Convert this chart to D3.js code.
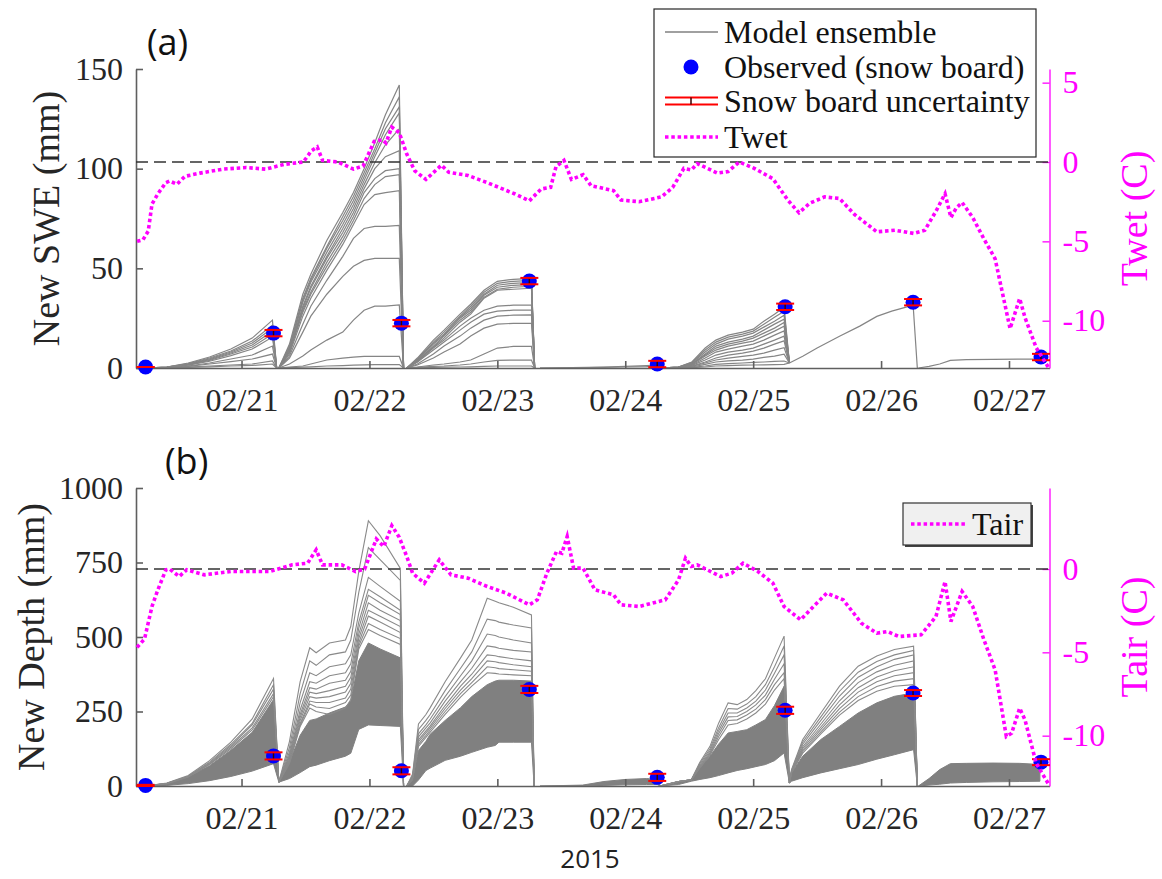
<!DOCTYPE html>
<html><head><meta charset="utf-8">
<script src="https://cdn.jsdelivr.net/npm/d3@7"></script>
<style>body{margin:0;background:#fff} svg{display:block}</style>
</head><body><svg id="c" width="1162" height="879"></svg>
<script>
// ---------------- DATA (hours since 2015-02-20 00:00) ----------------
const xTickHours = [24, 48, 72, 96, 120, 144, 168];
const xTickLabels = ["02/21", "02/22", "02/23", "02/24", "02/25", "02/26", "02/27"];
const xDomainHours = [4.2, 175.6];

const sweTicks = [0, 50, 100, 150];
const depthTicks = [0, 250, 500, 750, 1000];
const twetTicks = [-10, -5, 0, 5];
const tairTicks = [-10, -5, 0];
const twetLimits = [-12.98, 5.86];
const tairLimits = [-13.02, 4.86];

const obsHours = [6, 30, 54, 78, 102, 126, 150, 174];
const obsSWE = [0.5, 17.5, 22.5, 43.6, 2, 30.7, 33, 5.5];
const sweUncert = [0, 1.6, 1.6, 1.6, 1.6, 1.6, 1.6, 1.6];
const obsDepth = [2, 101, 51, 324, 29, 254, 312, 80];
const depthUncert = [2, 12, 12, 12, 12, 12, 10, 10];

const twetHours = [4.4,5.5,6.5,7.2,8.3,9.8,10.5,11.9,13.4,16.2,20.5,24.9,28.5,32,35.6,37.1,38.2,39.2,42.1,45,46.8,48.9,50.4,51.1,52.2,53.6,55,56.5,58.6,61.5,62.9,66.5,70.1,75.2,78,80.2,82,83,84.5,85.9,88.1,89.6,93.8,95.2,98.6,102.8,104.9,107,108.4,109.5,113.3,115.3,117.4,120.2,123.7,126.5,128.6,130.6,133.4,136.2,139,143.2,146.6,150.1,152.2,154.3,156,157.1,158.1,159.2,161.2,163.3,165.4,166.8,168.2,170,171,173.1,175.5];
const twetValues = [-5.0,-4.9,-4.35,-2.65,-2.0,-1.3,-1.2,-1.4,-0.9,-0.7,-0.45,-0.35,-0.45,-0.15,0,0.7,0.95,0.1,0,-0.45,-0.25,1.3,1.4,1.2,2.2,1.85,0.5,-0.55,-1.1,-0.2,-0.65,-0.85,-1.3,-2.0,-2.45,-1.7,-1.6,-0.3,0.1,-1.1,-0.8,-1.5,-1.8,-2.4,-2.5,-2.2,-1.6,-0.4,-0.5,-0.1,-0.7,-0.6,0.0,-0.4,-1.05,-2.4,-3.2,-2.6,-2.2,-2.3,-3.3,-4.4,-4.3,-4.5,-4.3,-3.1,-2.0,-3.5,-2.9,-2.55,-3.5,-4.85,-6.1,-8.3,-10.5,-8.6,-9.8,-11.7,-13.0];

const tairHours = [4.4,5.8,7.2,8.3,9.8,10.5,12.3,13.7,17,22,29.2,33.5,36.4,38,39.2,42.8,45.4,47.1,49.3,50.7,52.2,53.6,55,56.1,58.3,61.1,63.3,66.5,70.1,73.7,78,79.5,81.3,83.1,84.1,85.1,86.3,88.1,90.3,93.8,95.2,98.6,103.5,106,107.3,108.4,109.5,113.9,116,118.1,120.9,123.7,125.8,128.9,131.3,133.8,136.9,140.3,143.2,145.2,147.3,151.5,154.3,156,157.1,159.2,161.2,163.3,165.4,167.5,168.5,170,171,173.1,175.5];
const tairValues = [-4.7,-4.2,-2.25,-1.25,-0.05,0,-0.45,-0.05,-0.35,-0.15,-0.15,0.25,0.35,1.15,0.25,0.25,-0.15,0,1.8,1.35,2.6,1.9,0.75,-0.25,-0.85,0.55,-0.35,-0.55,-1.05,-1.45,-2.15,-1.85,-0.25,1.05,0.95,1.95,0.05,0.05,-1.25,-1.55,-2.15,-2.25,-1.85,-0.65,0.65,0.15,0.25,-0.45,-0.25,0.35,-0.15,-0.85,-2.25,-3.05,-2.25,-1.45,-1.85,-3.25,-3.85,-3.75,-4.05,-3.95,-2.85,-0.75,-3.15,-1.35,-2.25,-4.25,-6.05,-10.05,-9.85,-8.35,-9.05,-11.65,-12.95];

// SWE ensemble members, per accumulation period
const sweSeg1Hours = [6, 10, 14, 18, 22, 26, 29.8, 30.6];
const sweSeg1Members = [
  [0,0.5,2.5,5.5,9.5,15,24,0],[0,0.5,2.2,5,8.5,13.5,21.5,0],[0,0.4,2,4.6,8,12.5,20,0],
  [0,0.4,1.8,4.2,7.5,11.5,18.5,0],[0,0.3,1.6,3.8,7,10.5,17,0],[0,0.3,1.4,3.4,6.2,9.5,15.5,0],
  [0,0.2,1,2.5,4.5,6.5,11,0],[0,0.2,0.8,2,3.2,4.5,7,0],[0,0.1,0.5,1,1.5,2,3.5,0],[0,0.1,0.3,0.6,1,1.3,2,0]];
const sweSeg2Hours = [31, 33, 35.5, 37, 40, 43, 45, 47, 49, 51, 53.6, 54.4];
const sweSeg2Members = [
  [0,12,37,47,64,78,88,100,113,127,142,0],[0,11,35,45,61,76,86,98,110,123,136,0],
  [0,10,34,44,60,74,84,96,108,120,131,0],[0,10,33,43,58,72,82,94,106,117,128,0],
  [0,9,31,41,56,70,80,92,103,112,120,0],[0,9,30,40,55,68,78,90,100,106,109,0],
  [0,8,29,38,53,66,76,88,95,99,100,0],[0,8,28,37,51,64,74,85,92,96,97,0],
  [0,7,26,35,49,62,72,82,87,88,89,0],[0,6,22,31,44,56,65,70,71,71,71.5,0],
  [0,5,18,26,37,46,51,54,55,55,55,0],[0,2,6,9,14,18,24,29,31,31,31.6,0],
  [0,0.5,1,2,4,5,5.5,5.8,5.8,5.8,5.8,0],[0,0.2,0.4,0.6,1,1.2,1.4,1.6,1.7,1.7,1.7,0]];
const sweSeg3Hours = [55, 57, 60, 62, 65, 67, 69.5, 72, 75, 78.4, 79];
const sweSeg3Members = [
  [0,5,14,19,27,32,39,43.5,44.5,45,0],[0,4.5,13,18,26,31,38,42.5,43.5,44,0],
  [0,4,12.5,17,25.5,30,37,41.5,42.5,43,0],[0,4,12,16.5,25,29,36.5,40.5,41.5,42,0],
  [0,3.5,11,16,24,28,35.5,39.5,40.5,41,0],[0,3.5,10.5,15,23,27,35,39,39.5,40,0],
  [0,3,10,14,21,25,29,31,31.5,31.6,0],[0,3,9,13,19,23,27,28.5,29,29,0],
  [0,2,7,11,16,20,24,26,26.5,26.6,0],[0,1.5,5,8,12,16,20,22,22.4,22.4,0],
  [0,0.5,1.5,2,3,4,7,10,10.8,10.8,0],[0,0.3,0.8,1,1.5,2,3,3.8,4,4,0],[0,0.1,0.3,0.4,0.5,0.6,0.8,1,1,1,0]];
const sweSeg4Hours = [80, 86, 92, 96, 100, 102];
const sweSeg4Members = [[0,0.2,0.5,0.8,1.2,1.5],[0,0.1,0.3,0.5,0.7,1]];
const sweSeg5Hours = [102.5, 106, 108.5, 111, 113, 115.3, 118, 120, 122, 124, 125.8, 126.8];
const sweSeg5Members = [
  [0,0.5,3,10,14,16.5,18,19.5,23.5,27,30.5,2.5],[0,0.5,2.8,9,13,15.5,17,18.5,22,25.5,28.5,2.5],
  [0,0.5,2.5,8,12,14.5,16,17.5,20.5,23.5,26.5,2.5],[0,0.4,2.2,7,11,13,14.5,16,19,22,24.5,2.5],
  [0,0.4,2,6.5,10,12,13.5,15,17.5,20,22.8,2.5],[0,0.3,1.8,6,9,11,12.5,13.5,16,18.5,21,2.5],
  [0,0.3,1.5,5,8,9.5,11,12,14,16.5,18.6,2.5],[0,0.3,1.3,4,6.5,8,9,10,12,14,16,2.5],
  [0,0.2,1,3,5,6.5,7.5,8.5,10,12,13.6,2.5],[0,0.2,0.8,2.5,4,5,5.8,6.5,7.5,9,10.2,2.5],
  [0,0.1,0.5,1.8,3,3.6,4,4.5,5.3,6,6.9,2.5],[0,0.1,0.3,1,1.8,2.2,2.5,2.8,3,3.3,3.5,2.5],
  [0,0,0.2,0.5,1,1.2,1.4,1.5,1.6,1.7,1.8,2.5]];
const sweSeg6Hours = [126.8, 129.3, 132, 136.2, 140, 143.2, 146, 148.7, 150, 150.8];
const sweSeg6Members = [[2.5,5.9,10,15.9,21,25.9,28.5,30.5,32,0]];
const sweSeg7Hours = [151, 153, 155, 157, 160, 165, 170, 174];
const sweSeg7Members = [[0,0.8,2,3.8,4.2,4.3,4.5,4.5]];

// Depth ensemble: dense band (lower/upper) plus distinct upper members
const depSeg1Hours = [6, 10, 14, 18, 22, 26, 30, 31];
const depSeg1Lower = [0, 2, 8, 18, 32, 50, 75, 13];
const depSeg1Upper = [0, 8, 30, 68, 120, 180, 290, 13];
const depSeg1Members = [
  [0,10,35,85,147,225,361,13],[0,9,33,80,140,210,340,13],[0,9,32,77,135,205,325,13],
  [0,8,31,74,130,195,310,13],[0,8,30,72,125,188,300,13]];
const depSeg2Hours = [31, 33, 35, 36.8, 38, 40.5, 43.5, 44.5, 46, 47.8, 50, 53.8, 54.4];
const depSeg2Lower = [13, 25, 45, 65, 70, 85, 100, 110, 190, 205, 203, 200, 0];
const depSeg2Upper = [13, 80, 170, 220, 225, 245, 265, 285, 420, 480, 460, 430, 0];
const depSeg2Members = [
  [13,150,350,464,447,480,490,535,720,890,840,730,0],[13,130,310,420,405,440,450,490,650,800,760,690,0],
  [13,115,280,380,370,400,410,440,580,700,670,620,0],[13,105,255,350,345,370,380,410,550,660,635,590,0],
  [13,100,240,330,325,345,355,385,530,640,615,575,0],[13,95,230,315,310,320,335,365,510,615,590,555,0],
  [13,90,220,300,295,300,315,345,495,590,570,535,0],[13,85,210,285,280,280,295,325,480,570,550,515,0],
  [13,80,205,275,265,260,280,305,470,545,525,495,0],[13,75,200,262,250,240,262,290,460,525,505,475,0]];
const depSeg3Hours = [55, 56.1, 57.2, 58.6, 59.4, 62.2, 65.1, 67.2, 70.1, 71.6, 72.3, 75, 78.4, 78.9];
const depSeg3Lower = [0, 0, 20, 52, 60, 86, 100, 113, 130, 136, 147, 147, 147, 0];
const depSeg3Upper = [0, 20, 119, 150, 174, 220, 263, 300, 340, 352, 355, 355, 352, 0];
const depSeg3Members = [
  [0,40,208,240,263,350,430,490,630,620,615,600,574,0],[0,35,190,220,240,320,395,450,560,555,550,540,530,0],
  [0,32,175,205,225,300,370,420,510,505,500,490,480,0],[0,30,165,195,212,285,350,395,470,466,462,455,450,0],
  [0,28,155,185,202,270,335,375,440,437,434,427,420,0],[0,26,148,178,195,260,322,360,420,417,414,407,400,0],
  [0,24,140,170,188,250,310,347,400,397,394,390,385,0],[0,22,133,163,181,240,298,335,380,378,376,373,370,0]];
const depSeg4Hours = [80, 88, 92, 96, 100, 102, 102.5];
const depSeg4Lower = [0, 0, 2, 4, 5, 5, 0];
const depSeg4Upper = [0, 3, 15, 22, 25, 22, 0];
const depSeg5Hours = [102.5, 106, 108.4, 110, 111.9, 113.5, 115.3, 117, 118.8, 120.5, 122.3, 124, 125.8, 126.8];
const depSeg5Lower = [0, 5, 16, 22, 28, 35, 44, 52, 58, 65, 72, 85, 111, 10];
const depSeg5Upper = [0, 15, 21, 60, 100, 140, 178, 183, 189, 205, 223, 270, 335, 10];
const depSeg5Members = [
  [0,15,21,80,133,210,279,273,290,320,360,430,503,10],[0,15,21,75,125,195,260,258,275,300,340,400,470,10],
  [0,15,21,70,118,185,245,245,262,285,322,378,440,10],[0,15,21,66,112,175,232,233,250,272,305,358,410,10],
  [0,15,21,63,107,165,220,222,238,258,290,340,380,10],[0,15,21,61,103,155,205,210,225,245,275,322,360,10]];
const depSeg6Hours = [126.8, 127.2, 129.3, 132.7, 136.2, 139.7, 143.2, 146.5, 150.1, 150.8];
const depSeg6Lower = [10, 16, 28, 44, 58, 72, 90, 105, 122, 0];
const depSeg6Upper = [10, 44, 100, 156, 200, 245, 279, 301, 312, 0];
const depSeg6Members = [
  [10,55,156,245,335,402,436,458,469,0],[10,52,148,232,318,382,418,440,455,0],
  [10,50,140,220,302,365,400,425,440,0],[10,48,132,208,286,347,383,405,420,0],
  [10,47,126,198,272,330,366,387,400,0],[10,46,120,190,260,315,350,370,380,0],
  [10,45,115,182,248,300,334,352,360,0],[10,45,110,175,238,287,318,335,340,0]];
const depSeg7Hours = [151, 153, 155, 157, 160, 165, 170, 173.8];
const depSeg7Lower = [0, 3, 6, 10, 12, 14, 15, 16];
const depSeg7Upper = [0, 25, 55, 75, 76, 77, 76, 72];

// ---------------- DRAWING ----------------
const sweSegments = [
  [sweSeg1Hours, sweSeg1Members], [sweSeg2Hours, sweSeg2Members], [sweSeg3Hours, sweSeg3Members],
  [sweSeg4Hours, sweSeg4Members], [sweSeg5Hours, sweSeg5Members], [sweSeg6Hours, sweSeg6Members],
  [sweSeg7Hours, sweSeg7Members]];
const depSegments = [
  [depSeg1Hours, depSeg1Lower, depSeg1Upper, depSeg1Members],
  [depSeg2Hours, depSeg2Lower, depSeg2Upper, depSeg2Members],
  [depSeg3Hours, depSeg3Lower, depSeg3Upper, depSeg3Members],
  [depSeg4Hours, depSeg4Lower, depSeg4Upper, []],
  [depSeg5Hours, depSeg5Lower, depSeg5Upper, depSeg5Members],
  [depSeg6Hours, depSeg6Lower, depSeg6Upper, depSeg6Members],
  [depSeg7Hours, depSeg7Lower, depSeg7Upper, []]];

const base = new Date(2015, 1, 20).getTime();
const toDate = h => new Date(base + h * 3600000);
const svg = d3.select("#c");
const SERIF = "'Liberation Serif','Times New Roman',serif";
const SANS = "'Open Sans','Noto Sans',sans-serif";
const GRAY = "#808080", MAG = "#ff00ff", AXC = "#5f5f5f", TXT = "#262626";
const plainNum = d => String(d);

const x = d3.scaleTime().domain(xDomainHours.map(toDate)).range([136, 1049.5]);

function styleAxis(g, color, textColor) {
  g.attr("font-family", SERIF).attr("font-size", 32);
  g.selectAll("path.domain").attr("stroke", color).attr("stroke-width", 1.6);
  g.selectAll(".tick line").attr("stroke", color).attr("stroke-width", 1.6);
  g.selectAll(".tick text").attr("fill", textColor).style("font-family", SERIF).style("font-size", "32px");
}

function panel(cfg) {
  const y = d3.scaleLinear().domain([0, cfg.leftMax]).range([cfg.bottom, cfg.top]);
  const yR = d3.scaleLinear().domain(cfg.rightLimits).range([cfg.bottom, cfg.top]);
  const g = svg.append("g");

  // ensemble
  const line = d3.line().x(d => x(toDate(d[0]))).y(d => y(d[1]));
  if (cfg.bands) {
    const area = d3.area().x(d => x(toDate(d[0]))).y0(d => y(d[1])).y1(d => y(d[2]));
    cfg.bands.forEach(([hrs, lo, up, members]) => {
      g.append("path").attr("d", area(hrs.map((h, i) => [h, lo[i], up[i]])))
        .attr("fill", GRAY).attr("stroke", GRAY).attr("stroke-width", 1);
      members.forEach(m => g.append("path").attr("d", line(hrs.map((h, i) => [h, m[i]])))
        .attr("fill", "none").attr("stroke", "#8a8a8a").attr("stroke-width", 1.1));
    });
  } else {
    cfg.lines.forEach(([hrs, members]) => members.forEach(m =>
      g.append("path").attr("d", line(hrs.map((h, i) => [h, m[i]])))
        .attr("fill", "none").attr("stroke", "#858585").attr("stroke-width", 1.2)));
  }

  // axes
  const gx = g.append("g").attr("transform", `translate(0,${cfg.bottom})`)
    .call(d3.axisBottom(x).tickValues(xTickHours.map(toDate)).tickFormat((d, i) => xTickLabels[i])
      .tickSizeInner(-7).tickSizeOuter(0).tickPadding(20));
  styleAxis(gx, AXC, TXT);
  const gl = g.append("g").attr("transform", "translate(136,0)")
    .call(d3.axisLeft(y).tickValues(cfg.leftTicks).tickFormat(plainNum).tickSizeInner(-7).tickSizeOuter(0).tickPadding(13));
  styleAxis(gl, AXC, TXT);
  const gr = g.append("g").attr("transform", "translate(1049.5,0)")
    .call(d3.axisRight(yR).tickValues(cfg.rightTicks).tickFormat(plainNum).tickSizeInner(-7).tickSizeOuter(0).tickPadding(13));
  styleAxis(gr, MAG, MAG);
  gr.selectAll("path.domain,.tick line").attr("stroke-width", 1.3);

  // observations
  const ob = g.append("g");
  obsHours.forEach((h, i) => {
    const cx = x(toDate(h)), v = cfg.obs[i], u = cfg.unc[i];
    ob.append("circle").attr("cx", cx).attr("cy", y(v)).attr("r", 7.5).attr("fill", "#0000ff");
    ob.append("line").attr("x1", cx).attr("x2", cx).attr("y1", y(v - u)).attr("y2", y(v + u))
      .attr("stroke", "#3a0000").attr("stroke-width", 1.5);
    [v - u, v + u].forEach(e => ob.append("line").attr("x1", cx - 9).attr("x2", cx + 9)
      .attr("y1", y(e)).attr("y2", y(e)).attr("stroke", "#ff0000").attr("stroke-width", 2));
  });

  // zero line and temperature
  g.append("line").attr("x1", 136).attr("x2", 1049.5).attr("y1", yR(0)).attr("y2", yR(0))
    .attr("stroke", "#333").attr("stroke-width", 1.4).attr("stroke-dasharray", "12,6");
  const tl = d3.line().x(d => x(toDate(d[0]))).y(d => yR(d[1]));
  g.append("path").attr("d", tl(cfg.tHours.map((h, i) => [h, cfg.tVals[i]])))
    .attr("fill", "none").attr("stroke", MAG).attr("stroke-width", 3.6).attr("stroke-dasharray", "3.5,2.8");

  // axis titles
  const mid = (cfg.top + cfg.bottom) / 2;
  g.append("text").attr("transform", `translate(${cfg.leftTitleX},${mid}) rotate(-90)`)
    .attr("text-anchor", "middle").style("font-family", SERIF).style("font-size", "38px")
    .attr("fill", TXT).text(cfg.leftTitle);
  g.append("text").attr("transform", `translate(1147,${mid}) rotate(-90)`)
    .attr("text-anchor", "middle").style("font-family", SERIF).style("font-size", "38px")
    .attr("fill", MAG).text(cfg.rightTitle);
  g.append("text").attr("x", cfg.tagX).attr("y", cfg.tagY).style("font-family", SANS)
    .style("font-size", "36px").attr("fill", "#111").text(cfg.tag);
  return g;
}

panel({top: 69, bottom: 368, leftMax: 150, leftTicks: sweTicks, rightLimits: twetLimits, rightTicks: twetTicks,
  lines: sweSegments, obs: obsSWE, unc: sweUncert, tHours: twetHours, tVals: twetValues,
  leftTitle: "New SWE (mm)", leftTitleX: 59, rightTitle: "Twet (C)", tag: "(a)", tagX: 147, tagY: 55});
panel({top: 488, bottom: 786, leftMax: 1000, leftTicks: depthTicks, rightLimits: tairLimits, rightTicks: tairTicks,
  bands: depSegments, obs: obsDepth, unc: depthUncert, tHours: tairHours, tVals: tairValues,
  leftTitle: "New Depth (mm)", leftTitleX: 44, rightTitle: "Tair (C)", tag: "(b)", tagX: 165, tagY: 474});

svg.append("text").attr("x", 590).attr("y", 868).attr("text-anchor", "middle")
  .style("font-family", SANS).style("font-size", "26px").attr("fill", "#222").text("2015");

// legend (a)
const la = svg.append("g");
la.append("rect").attr("x", 654).attr("y", 9).attr("width", 382).attr("height", 148)
  .attr("fill", "#fff").attr("stroke", "#262626").attr("stroke-width", 1.2);
const legY = [32, 67, 101, 137];
const legText = ["Model ensemble", "Observed (snow board)", "Snow board uncertainty", "Twet"];
la.append("line").attr("x1", 665).attr("x2", 718).attr("y1", legY[0]).attr("y2", legY[0]).attr("stroke", GRAY).attr("stroke-width", 1.5);
la.append("circle").attr("cx", 691).attr("cy", legY[1]).attr("r", 7.5).attr("fill", "#0000ff");
[-3.5, 3.5].forEach(o => la.append("line").attr("x1", 665).attr("x2", 718).attr("y1", legY[2] + o).attr("y2", legY[2] + o)
  .attr("stroke", "#ff0000").attr("stroke-width", 2.2));
la.append("line").attr("x1", 691).attr("x2", 691).attr("y1", legY[2] - 3.5).attr("y2", legY[2] + 3.5).attr("stroke", "#3a0000").attr("stroke-width", 1.5);
la.append("line").attr("x1", 665).attr("x2", 718).attr("y1", legY[3]).attr("y2", legY[3]).attr("stroke", MAG)
  .attr("stroke-width", 3.6).attr("stroke-dasharray", "3.5,2.8");
legText.forEach((t, i) => la.append("text").attr("x", 724).attr("y", legY[i]).attr("dy", "0.34em")
  .style("font-family", SERIF).style("font-size", "32px").attr("fill", "#111").text(t));

// legend (b)
const lb = svg.append("g");
lb.append("rect").attr("x", 905).attr("y", 505).attr("width", 128).attr("height", 42).attr("fill", "#444");
lb.append("rect").attr("x", 903).attr("y", 503).attr("width", 128).attr("height", 42)
  .attr("fill", "#f0f0f0").attr("stroke", "#333").attr("stroke-width", 1.2);
lb.append("line").attr("x1", 911).attr("x2", 965).attr("y1", 524).attr("y2", 524).attr("stroke", MAG)
  .attr("stroke-width", 3.6).attr("stroke-dasharray", "3.5,2.8");
lb.append("text").attr("x", 972).attr("y", 524).attr("dy", "0.34em").style("font-family", SERIF)
  .style("font-size", "32px").attr("fill", "#111").text("Tair");
</script></body></html>
